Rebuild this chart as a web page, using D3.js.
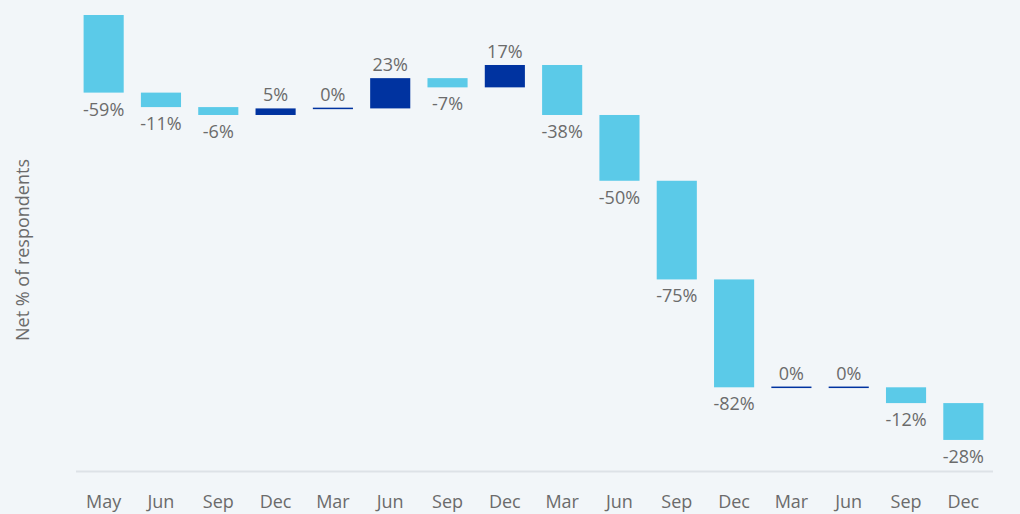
<!DOCTYPE html>
<html lang="en">
  <head>
    <meta charset="utf-8">
    <title>Net % of respondents waterfall</title>
    <script type="text/javascript" src="https://cdn.jsdelivr.net/npm/d3@7"></script>
    <style>
      body { margin: 0; background: #f2f6f9; }
      text { font-family: "Open Sans", sans-serif; }
    </style>
  </head>
  <body>
    <script type="text/javascript">

      var w = 1020;
      var h = 514;

      // x categories (quarter months)
      var months = ["May", "Jun", "Sep", "Dec", "Mar", "Jun", "Sep", "Dec",
                    "Mar", "Jun", "Sep", "Dec", "Mar", "Jun", "Sep", "Dec"];

      // change per period, in net %
      var values = [-59, -11, -6, 5, 0, 23, -7, 17, -38, -50, -75, -82, 0, 0, -12, -28];

      var negColor = "#5bcae8";
      var posColor = "#0033a0";

      // running total for the floating bars
      var dataset = [];
      var total = 0;
      for (var i = 0; i < values.length; i++) {
        dataset.push({ key: i, month: months[i], value: values[i], start: total, end: total + values[i] });
        total += values[i];
      }

      var xScale = d3.scaleBand()
                     .domain(d3.range(months.length))
                     .range([75, 992])
                     .paddingInner(0.3)
                     .paddingOuter(0.15);

      var yScale = d3.scaleLinear()
                     .domain([-347, 0])
                     .range([471.5, 15]);

      var svg = d3.select("body")
                  .append("svg")
                  .attr("width", w)
                  .attr("height", h);

      svg.append("rect")
         .attr("width", w)
         .attr("height", h)
         .attr("fill", "#f2f6f9");

      // axis line
      svg.append("line")
         .attr("x1", 76)
         .attr("x2", 993)
         .attr("y1", yScale(-347))
         .attr("y2", yScale(-347))
         .attr("stroke", "#dde2e7")
         .attr("stroke-width", 2);

      // bars
      svg.selectAll("rect.bar")
         .data(dataset)
         .enter()
         .append("rect")
         .attr("class", "bar")
         .attr("x", function(d) { return xScale(d.key); })
         .attr("width", xScale.bandwidth())
         .attr("y", function(d) {
           return d.value === 0 ? yScale(d.start) - 0.75 : yScale(Math.max(d.start, d.end));
         })
         .attr("height", function(d) {
           return d.value === 0 ? 1.5 : Math.abs(yScale(d.start) - yScale(d.end));
         })
         .attr("fill", function(d) { return d.value < 0 ? negColor : posColor; });

      // value labels
      svg.selectAll("text.val")
         .data(dataset)
         .enter()
         .append("text")
         .attr("class", "val")
         .attr("x", function(d) { return xScale(d.key) + xScale.bandwidth() / 2; })
         .attr("y", function(d) {
           if (d.value < 0) return yScale(d.end) + 23;
           return yScale(d.end) - 7;
         })
         .attr("text-anchor", "middle")
         .attr("font-size", "18px")
         .attr("fill", "#6b6b6b")
         .text(function(d) { return d.value + "%"; });

      // month labels
      svg.selectAll("text.month")
         .data(dataset)
         .enter()
         .append("text")
         .attr("class", "month")
         .attr("x", function(d) { return xScale(d.key) + xScale.bandwidth() / 2; })
         .attr("y", 508)
         .attr("text-anchor", "middle")
         .attr("font-size", "18px")
         .attr("fill", "#6b6b6b")
         .text(function(d) { return d.month; });

      // y axis title
      svg.append("text")
         .attr("transform", "translate(29,250) rotate(-90)")
         .attr("text-anchor", "middle")
         .attr("font-size", "18px")
         .attr("fill", "#6b6b6b")
         .text("Net % of respondents");

    </script>
  </body>
</html>
